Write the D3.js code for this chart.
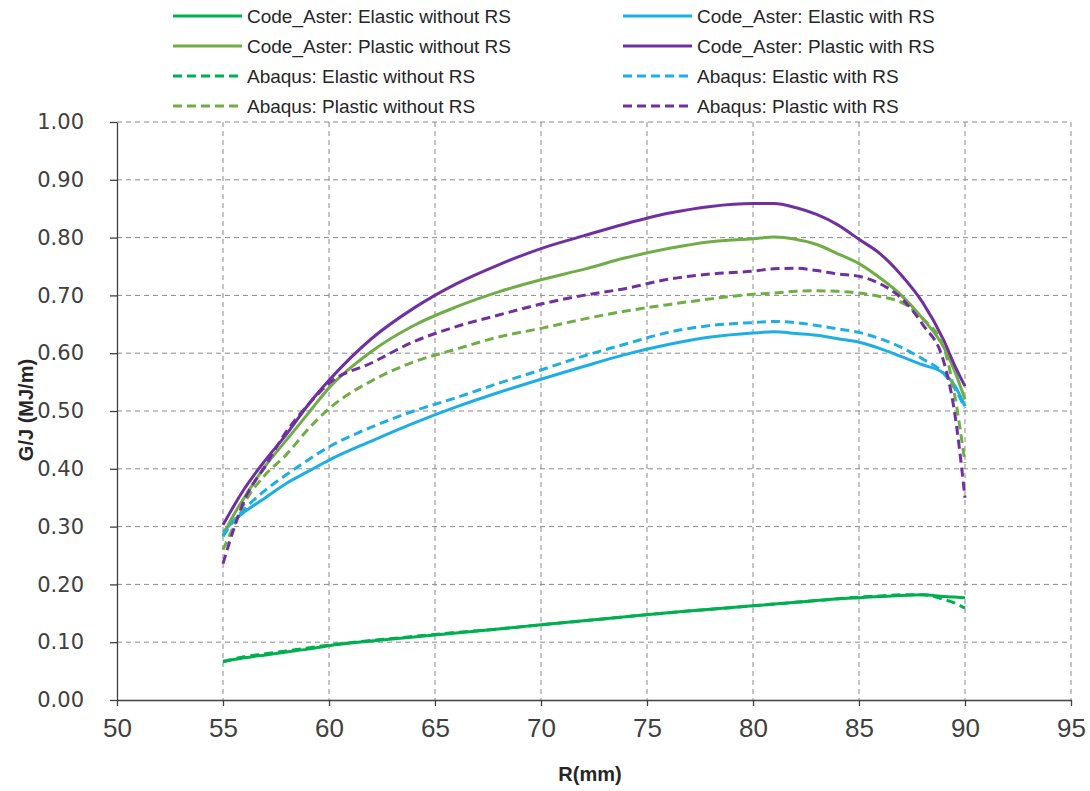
<!DOCTYPE html>
<html lang="en">
<head>
  <meta charset="utf-8">
  <title>G/J vs R</title>
  <script src="https://d3js.org/d3.v7.min.js"></script>
  <style>
    body { margin: 0; background: #fff; }
    .grid line { stroke: #8a8a8a; stroke-dasharray: 5,4; stroke-width: 1; }
    .axis path, .axis line { stroke: #404040; stroke-width: 1.3; }
    .leg text { font-family: "Liberation Sans", Arial, sans-serif; font-size: 19px; fill: #262626; }
  </style>
</head>
<body>
<div id="chart"></div>
<script>
"use strict"

// radius positions (mm)
var R = [55, 55.5, 56, 57, 58, 59, 60, 62, 64, 66, 68, 70, 72, 74, 76, 78, 80, 81, 82, 83, 84, 85, 86, 87, 88, 89, 89.5, 90];

// G/J (MJ/m) per series
var caElasticNoRS = [0.067, 0.070, 0.073, 0.078, 0.083, 0.088, 0.094, 0.102, 0.109, 0.116, 0.123, 0.130, 0.137, 0.144, 0.151, 0.157, 0.163, 0.166, 0.169, 0.172, 0.175, 0.177, 0.179, 0.181, 0.182, 0.179, 0.178, 0.177];
var caElasticRS   = [0.290, 0.310, 0.325, 0.350, 0.375, 0.395, 0.415, 0.448, 0.479, 0.507, 0.532, 0.555, 0.577, 0.598, 0.615, 0.628, 0.635, 0.637, 0.634, 0.631, 0.625, 0.619, 0.608, 0.594, 0.580, 0.565, 0.545, 0.508];
var caPlasticNoRS = [0.285, 0.320, 0.350, 0.405, 0.450, 0.495, 0.540, 0.603, 0.648, 0.680, 0.706, 0.727, 0.745, 0.765, 0.781, 0.793, 0.798, 0.801, 0.797, 0.788, 0.772, 0.755, 0.730, 0.700, 0.660, 0.610, 0.570, 0.520];
var caPlasticRS   = [0.303, 0.335, 0.365, 0.415, 0.460, 0.510, 0.553, 0.625, 0.678, 0.720, 0.753, 0.781, 0.803, 0.824, 0.842, 0.854, 0.859, 0.859, 0.852, 0.840, 0.822, 0.797, 0.772, 0.735, 0.688, 0.622, 0.580, 0.543];
var abElasticNoRS = [0.066, 0.071, 0.075, 0.080, 0.085, 0.090, 0.095, 0.103, 0.110, 0.117, 0.123, 0.130, 0.137, 0.144, 0.151, 0.157, 0.163, 0.166, 0.169, 0.172, 0.175, 0.178, 0.180, 0.182, 0.182, 0.174, 0.168, 0.159];
var abElasticRS   = [0.283, 0.310, 0.330, 0.363, 0.390, 0.415, 0.438, 0.472, 0.500, 0.523, 0.548, 0.571, 0.595, 0.616, 0.636, 0.648, 0.653, 0.655, 0.653, 0.648, 0.642, 0.636, 0.625, 0.610, 0.590, 0.565, 0.540, 0.505];
var abPlasticNoRS = [0.260, 0.300, 0.340, 0.390, 0.425, 0.468, 0.504, 0.552, 0.585, 0.607, 0.628, 0.643, 0.659, 0.673, 0.684, 0.694, 0.702, 0.704, 0.707, 0.708, 0.707, 0.704, 0.698, 0.688, 0.660, 0.610, 0.530, 0.410];
var abPlasticRS   = [0.236, 0.295, 0.345, 0.405, 0.465, 0.510, 0.548, 0.583, 0.620, 0.646, 0.666, 0.685, 0.700, 0.712, 0.728, 0.737, 0.742, 0.746, 0.747, 0.743, 0.737, 0.733, 0.720, 0.695, 0.650, 0.585, 0.500, 0.350];

var xTicks = [50, 55, 60, 65, 70, 75, 80, 85, 90, 95];
var yTicks = [0, 0.1, 0.2, 0.3, 0.4, 0.5, 0.6, 0.7, 0.8, 0.9, 1.0];

var series = [
  {name: "Code_Aster: Elastic without RS", v: caElasticNoRS, color: "#00B050", dash: null},
  {name: "Code_Aster: Elastic with RS",    v: caElasticRS,   color: "#1EAEE6", dash: null},
  {name: "Code_Aster: Plastic without RS", v: caPlasticNoRS, color: "#70AD47", dash: null},
  {name: "Code_Aster: Plastic with RS",    v: caPlasticRS,   color: "#7030A0", dash: null},
  {name: "Abaqus: Elastic without RS",     v: abElasticNoRS, color: "#00B050", dash: "9,5"},
  {name: "Abaqus: Elastic with RS",        v: abElasticRS,   color: "#1EAEE6", dash: "9,5"},
  {name: "Abaqus: Plastic without RS",     v: abPlasticNoRS, color: "#70AD47", dash: "9,5"},
  {name: "Abaqus: Plastic with RS",        v: abPlasticRS,   color: "#7030A0", dash: "9,5"}
];

var larguraSVG = 1090, alturaSVG = 791;
var margin = {top: 122, right: 19, bottom: 91, left: 117},
    larguraVis = larguraSVG - margin.left - margin.right,
    alturaVis = alturaSVG - margin.top - margin.bottom;

var svg = d3.select('#chart').append('svg')
    .attr('width', larguraSVG)
    .attr('height', alturaSVG);

var grafico = svg.append('g')
    .attr('transform', 'translate(' + margin.left + ',' + margin.top + ')');

/*
 * scales
 */
var x = d3.scaleLinear().domain([50, 95]).range([0, larguraVis]);
var y = d3.scaleLinear().domain([0, 1]).range([alturaVis, 0]);

/*
 * dashed grid
 */
var grid = grafico.append('g').attr('class', 'grid');
grid.selectAll('.gx').data(xTicks.slice(1)).enter().append('line')
    .attr('x1', d => x(d)).attr('x2', d => x(d))
    .attr('y1', 0).attr('y2', alturaVis);
grid.selectAll('.gy').data(yTicks.slice(1)).enter().append('line')
    .attr('x1', 0).attr('x2', larguraVis)
    .attr('y1', d => y(d)).attr('y2', d => y(d));

/*
 * axes
 */
var eixoX = grafico.append('g')
    .attr('class', 'axis')
    .attr('transform', 'translate(0,' + alturaVis + ')')
    .call(d3.axisBottom(x).tickValues(xTicks).tickSizeInner(6).tickSizeOuter(0).tickPadding(13));
eixoX.selectAll('text')
    .style('font-family', '"Liberation Sans Narrow", "Liberation Sans", sans-serif')
    .style('font-size', '26px')
    .style('fill', '#404040');

var eixoY = grafico.append('g')
    .attr('class', 'axis')
    .call(d3.axisLeft(y).tickValues(yTicks).tickFormat(d3.format('.2f')).tickSizeInner(7).tickSizeOuter(0).tickPadding(26));
eixoY.selectAll('text')
    .style('font-family', '"DejaVu Sans", Verdana, sans-serif')
    .style('font-size', '21px')
    .style('fill', '#404040');

/*
 * lines
 */
var linha = d3.line()
    .x((d, i) => x(R[i]))
    .y(d => y(d))
    .curve(d3.curveMonotoneX);

grafico.selectAll('.serie').data(series).enter().append('path')
    .attr('class', 'serie')
    .attr('d', d => linha(d.v))
    .attr('fill', 'none')
    .attr('stroke', d => d.color)
    .attr('stroke-width', 3)
    .attr('stroke-dasharray', d => d.dash);

/*
 * axis titles
 */
svg.append('text')
    .attr('transform', 'translate(33,410) rotate(-90)')
    .attr('text-anchor', 'middle')
    .style('font-family', '"Liberation Sans", Arial, sans-serif')
    .style('font-weight', 'bold')
    .style('font-size', '20px')
    .style('fill', '#262626')
    .text('G/J (MJ/m)');

svg.append('text')
    .attr('x', 590).attr('y', 781)
    .attr('text-anchor', 'middle')
    .style('font-family', '"Liberation Sans", Arial, sans-serif')
    .style('font-weight', 'bold')
    .style('font-size', '20px')
    .style('fill', '#262626')
    .text('R(mm)');

/*
 * legend: two columns, four rows
 */
var legOrder = [0, 1, 2, 3, 4, 5, 6, 7];
var legX = [173, 623], legY = [16, 46, 76, 106];
var leg = svg.append('g').attr('class', 'leg');
legOrder.forEach(function(k, i) {
  var s = series[k];
  var cx = legX[i % 2], cy = legY[Math.floor(i / 2)];
  leg.append('line')
      .attr('x1', cx).attr('x2', cx + 69)
      .attr('y1', cy).attr('y2', cy)
      .attr('stroke', s.color)
      .attr('stroke-width', 3)
      .attr('stroke-dasharray', s.dash);
  leg.append('text')
      .attr('x', cx + 74).attr('y', cy + 7)
      .text(s.name);
});
</script>
</body>
</html>
